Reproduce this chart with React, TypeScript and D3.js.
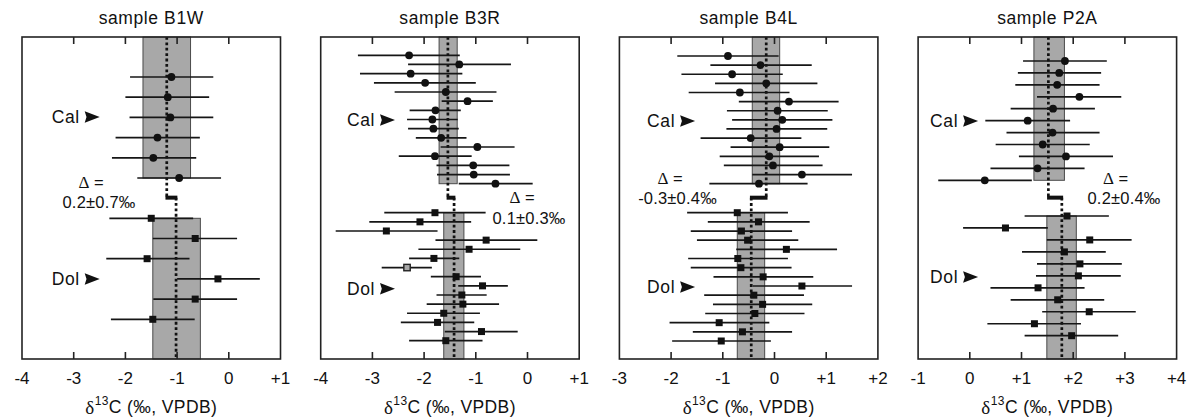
import React from "react";
import * as d3 from "d3";

// ---------- data ----------
const titles = ["sample B1W", "sample B3R", "sample B4L", "sample P2A"];
const xDomains: [number, number][] = [[-4, 1], [-4, 1], [-3, 2], [-1, 4]];
const deltaLabels = ["0.2±0.7‰", "0.1±0.3‰", "-0.3±0.4‰", "0.2±0.4‰"];

const calMean = [-1.2, -1.54, -0.16, 1.52];
const dolMean = [-1.02, -1.42, -0.45, 1.78];
const calBandLo = [-1.66, -1.71, -0.43, 1.24];
const calBandHi = [-0.74, -1.36, 0.1, 1.83];
const dolBandLo = [-1.47, -1.62, -0.72, 1.49];
const dolBandHi = [-0.55, -1.23, -0.19, 2.06];

// B1W
const b1wCalVal = [-1.11, -1.18, -1.13, -1.38, -1.46, -0.96];
const b1wCalLo = [-1.91, -2.0, -1.92, -2.19, -2.26, -1.77];
const b1wCalHi = [-0.3, -0.38, -0.3, -0.56, -0.63, -0.15];
const b1wDolVal = [-1.5, -0.65, -1.58, -0.21, -0.65, -1.47];
const b1wDolLo = [-2.31, -1.47, -2.37, -1.0, -1.46, -2.28];
const b1wDolHi = [-0.69, 0.16, -0.76, 0.6, 0.16, -0.66];

// B3R
const b3rCalVal = [-2.29, -1.32, -2.26, -1.98, -1.58, -1.16, -1.78, -1.84, -1.82, -1.67, -0.97, -1.79, -1.05, -1.04, -0.62];
const b3rCalLo = [-3.28, -2.31, -3.24, -2.97, -2.57, -1.66, -2.28, -2.33, -2.31, -2.16, -1.68, -2.49, -1.76, -1.75, -1.33];
const b3rCalHi = [-1.31, -0.32, -1.26, -1.0, -0.6, -0.67, -1.29, -1.35, -1.33, -1.18, -0.25, -1.08, -0.35, -0.34, 0.1];
const b3rDolVal = [-1.79, -2.08, -2.73, -0.8, -1.13, -1.81, -2.33, -1.38, -0.87, -1.27, -1.25, -1.62, -1.74, -0.89, -1.58];
const b3rDolLo = [-2.77, -3.06, -3.71, -1.78, -2.11, -2.29, -2.82, -1.87, -1.34, -1.76, -1.95, -2.33, -2.45, -1.6, -2.29];
const b3rDolHi = [-0.81, -1.09, -1.74, 0.19, -0.14, -1.32, -1.85, -0.9, -0.38, -0.79, -0.55, -0.92, -1.03, -0.19, -0.87];
const b3rDolOpen = [6];

// B4L
const b4lCalVal = [-0.9, -0.27, -0.82, -0.16, -0.67, 0.28, 0.06, 0.15, 0.04, -0.46, 0.1, -0.1, -0.03, 0.53, -0.3];
const b4lCalLo = [-1.88, -1.24, -1.8, -1.15, -1.66, -0.69, -0.92, -0.82, -0.93, -1.43, -0.85, -1.06, -0.98, -0.43, -1.26];
const b4lCalHi = [0.08, 0.72, 0.16, 0.83, 0.29, 1.24, 1.03, 1.12, 1.02, 0.52, 1.06, 0.86, 0.93, 1.5, 0.64];
const b4lDolVal = [-0.72, -0.31, -0.64, -0.52, 0.23, -0.71, -0.65, -0.22, 0.53, -0.4, -0.23, -0.38, -1.07, -0.62, -1.03];
const b4lDolLo = [-1.69, -1.29, -1.62, -1.5, -0.74, -1.67, -1.62, -1.18, -0.42, -1.36, -1.19, -1.34, -2.03, -1.58, -1.98];
const b4lDolHi = [0.26, 0.68, 0.34, 0.46, 1.21, 0.26, 0.33, 0.75, 1.5, 0.57, 0.73, 0.58, -0.1, 0.34, -0.07];

// P2A
const p2aCalVal = [1.84, 1.73, 1.69, 2.12, 1.61, 1.12, 1.6, 1.41, 1.86, 1.31, 0.29];
const p2aCalLo = [1.03, 0.93, 0.88, 1.3, 0.79, 0.3, 0.71, 0.5, 0.95, 0.4, -0.61];
const p2aCalHi = [2.65, 2.54, 2.51, 2.93, 2.42, 1.94, 2.51, 2.32, 2.77, 2.22, 1.2];
const p2aDolVal = [1.88, 0.69, 2.32, 1.83, 2.13, 2.1, 1.32, 1.7, 2.31, 1.25, 1.97];
const p2aDolLo = [1.06, -0.13, 1.49, 1.01, 1.3, 1.28, 0.4, 0.79, 1.4, 0.34, 1.06];
const p2aDolHi = [2.69, 1.51, 3.13, 2.63, 2.94, 2.92, 2.22, 2.6, 3.21, 2.15, 2.87];

const calSeries = [
  [b1wCalVal, b1wCalLo, b1wCalHi],
  [b3rCalVal, b3rCalLo, b3rCalHi],
  [b4lCalVal, b4lCalLo, b4lCalHi],
  [p2aCalVal, p2aCalLo, p2aCalHi],
];
const dolSeries = [
  [b1wDolVal, b1wDolLo, b1wDolHi],
  [b3rDolVal, b3rDolLo, b3rDolHi],
  [b4lDolVal, b4lDolLo, b4lDolHi],
  [p2aDolVal, p2aDolLo, p2aDolHi],
];
const openDol: number[][] = [[], b3rDolOpen, [], []];

// ---------- layout ----------
const W = 1187;
const H = 418;
const TOP = 37;
const BOTTOM = 359;
const PANEL_W = 258.5;
const PANEL_STEP = 298.7;
const FIRST_LEFT = 22;
const rowRanges = [
  { cal: [77, 178], dol: [218.3, 319.3] },
  { cal: [55.3, 183.7], dol: [212.7, 340.7] },
  { cal: [56, 183.7], dol: [212.7, 341] },
  { cal: [61, 180.3], dol: [216, 335.7] },
];
const labelPos = [
  { x: 29.7, cal: 117, dol: 279 },
  { x: 26.3, cal: 120, dol: 288.7 },
  { x: 27.7, cal: 121, dol: 287 },
  { x: 12, cal: 121, dol: 277 },
];
const deltaPos = [
  { x1: 91, y1: 182, x2: 99, y2: 202 },
  { x1: 522, y1: 197, x2: 529, y2: 218 },
  { x1: 670, y1: 178, x2: 677.5, y2: 198 },
  { x1: 1115.5, y1: 178, x2: 1124, y2: 198 },
];

const FONT = "'Liberation Sans', Arial, Helvetica, sans-serif";
const SERIF = "'Liberation Serif', 'Times New Roman', serif";
const fmt = (d: number) => (d > 0 ? `+${d}` : `${d}`);

function Panel({ i }: { i: number }) {
  const left = FIRST_LEFT + i * PANEL_STEP;
  const right = left + PANEL_W;
  const x = d3.scaleLinear().domain(xDomains[i]).range([left, right]);
  const [calVal, calLo, calHi] = calSeries[i];
  const [dolVal, dolLo, dolHi] = dolSeries[i];
  const yCal = d3.scalePoint<number>().domain(d3.range(calVal.length)).range(rowRanges[i].cal as [number, number]);
  const yDol = d3.scalePoint<number>().domain(d3.range(dolVal.length)).range(rowRanges[i].dol as [number, number]);
  const calLast = yCal(calVal.length - 1)!;
  const dolFirst = yDol(0)!;
  const jogY = (calLast + dolFirst) / 2 - 0.5;
  const ticks = d3.range(xDomains[i][0], xDomains[i][1] + 1);
  const inner = ticks.slice(1, -1);
  const lp = labelPos[i];
  const dp = deltaPos[i];
  const arrow = (tx: number, ty: number) =>
    `M${tx},${ty - 5.8} L${tx + 15},${ty} L${tx},${ty + 5.8} L${tx + 1.8},${ty} Z`;
  const cx = (left + right) / 2;

  return (
    <g>
      {/* title */}
      <text x={cx} y={18} textAnchor="middle" dominantBaseline="central" fontFamily={FONT} fontSize={17.5} letterSpacing={0.6} fill="#111">
        {titles[i]}
      </text>
      {/* bands */}
      <rect x={x(calBandLo[i])} y={TOP} width={x(calBandHi[i]) - x(calBandLo[i])} height={calLast - TOP} fill="#a8a8a8" stroke="#4a4a4a" strokeWidth={1} />
      <rect x={x(dolBandLo[i])} y={dolFirst} width={x(dolBandHi[i]) - x(dolBandLo[i])} height={BOTTOM - dolFirst} fill="#a8a8a8" stroke="#4a4a4a" strokeWidth={1} />
      {/* mean dotted lines */}
      <line x1={x(calMean[i])} x2={x(calMean[i])} y1={TOP} y2={jogY} stroke="#111" strokeWidth={2.7} strokeDasharray="2.8,2.6" />
      <line x1={x(dolMean[i])} x2={x(dolMean[i])} y1={jogY} y2={BOTTOM} stroke="#111" strokeWidth={2.7} strokeDasharray="2.8,2.6" />
      <rect x={Math.min(x(calMean[i]), x(dolMean[i])) - 1.3} y={jogY - 2} width={Math.abs(x(dolMean[i]) - x(calMean[i])) + 2.6} height={4} fill="#111" />
      {/* error bars */}
      {calVal.map((v, k) => (
        <line key={`ce${k}`} x1={x(calLo[k])} x2={x(calHi[k])} y1={yCal(k)} y2={yCal(k)} stroke="#161616" strokeWidth={1.7} />
      ))}
      {dolVal.map((v, k) => (
        <line key={`de${k}`} x1={x(dolLo[k])} x2={x(dolHi[k])} y1={yDol(k)} y2={yDol(k)} stroke="#161616" strokeWidth={1.7} />
      ))}
      {/* markers */}
      {calVal.map((v, k) => (
        <circle key={`cm${k}`} cx={x(v)} cy={yCal(k)} r={3.9} fill="#111" />
      ))}
      {dolVal.map((v, k) =>
        openDol[i].includes(k) ? (
          <rect key={`dm${k}`} x={x(v) - 3.2} y={yDol(k)! - 3.2} width={6.4} height={6.4} fill="#a8a8a8" stroke="#222" strokeWidth={1.4} />
        ) : (
          <rect key={`dm${k}`} x={x(v) - 3.5} y={yDol(k)! - 3.5} width={7} height={7} fill="#111" />
        )
      )}
      {/* frame */}
      <rect x={left} y={TOP} width={PANEL_W} height={BOTTOM - TOP} fill="none" stroke="#222" strokeWidth={1.6} />
      {inner.map((t) => (
        <g key={`t${t}`}>
          <line x1={x(t)} x2={x(t)} y1={TOP} y2={TOP + 7} stroke="#222" strokeWidth={1.6} />
          <line x1={x(t)} x2={x(t)} y1={BOTTOM} y2={BOTTOM - 7} stroke="#222" strokeWidth={1.6} />
        </g>
      ))}
      {ticks.map((t) => (
        <text key={`l${t}`} x={x(t)} y={378} textAnchor="middle" dominantBaseline="central" fontFamily={FONT} fontSize={17} fill="#111">
          {fmt(t)}
        </text>
      ))}
      {/* axis title */}
      <text x={cx} y={407} textAnchor="middle" dominantBaseline="central" fontFamily={FONT} fontSize={17.5} letterSpacing={0.4} fill="#111">
        <tspan fontFamily={SERIF} fontSize={19}>δ</tspan>
        <tspan fontSize={12} dy={-6}>13</tspan>
        <tspan dy={6}>C (‰, VPDB)</tspan>
      </text>
      {/* Cal / Dol labels */}
      <text x={left + lp.x} y={lp.cal} dominantBaseline="central" fontFamily={FONT} fontSize={17.5} letterSpacing={0.6} fill="#111">Cal</text>
      <path d={arrow(left + lp.x + 33, lp.cal)} fill="#111" />
      <text x={left + lp.x} y={lp.dol} dominantBaseline="central" fontFamily={FONT} fontSize={17.5} letterSpacing={0.6} fill="#111">Dol</text>
      <path d={arrow(left + lp.x + 33, lp.dol)} fill="#111" />
      {/* delta */}
      <text x={dp.x1} y={dp.y1} textAnchor="middle" dominantBaseline="central" fontFamily={FONT} fontSize={16.5} fill="#111">
        <tspan fontFamily={SERIF} fontSize={17}>Δ</tspan>
        <tspan> =</tspan>
      </text>
      <text x={dp.x2} y={dp.y2} textAnchor="middle" dominantBaseline="central" fontFamily={FONT} fontSize={16.5} letterSpacing={0.2} fill="#111">
        {deltaLabels[i]}
      </text>
    </g>
  );
}

export default function App() {
  return (
    <svg width={W} height={H} viewBox={`0 0 ${W} ${H}`} style={{ display: "block", position: "absolute", left: 0, top: 0, background: "#fff" }}>
      <rect x={0} y={0} width={W} height={H} fill="#fff" />
      {titles.map((_, i) => (
        <Panel key={i} i={i} />
      ))}
    </svg>
  );
}
